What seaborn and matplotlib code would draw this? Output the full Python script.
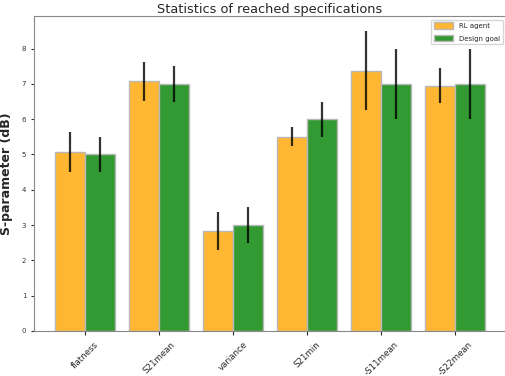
import numpy as np
import pandas as pd
import seaborn as sns
import matplotlib.pyplot as plt

specs = ['flatness', 'S21mean', 'variance', 'S21min', '-S11mean', '-S22mean']
agent_mean = [5.07, 7.07, 2.83, 5.50, 7.37, 6.95]
agent_err = [0.56, 0.56, 0.54, 0.27, 1.12, 0.50]
goal_mean = [5.0, 7.0, 3.0, 6.0, 7.0, 7.0]
goal_err = [0.5, 0.5, 0.5, 0.5, 1.0, 1.0]

df = pd.DataFrame({
    'spec': specs * 2,
    'value': agent_mean + goal_mean,
    'err': agent_err + goal_err,
    'who': ['RL agent'] * len(specs) + ['Design goal'] * len(specs),
})

sns.set_style("white")

fig = plt.figure(figsize=(5.06, 3.76), dpi=100)
ax = fig.add_axes([0.067, 0.12, 0.933, 0.837])

sns.barplot(data=df, x='spec', y='value', hue='who', errorbar=None,
            palette={'RL agent': '#ffb733', 'Design goal': '#339933'},
            edgecolor='#b8b8b8', linewidth=1, width=0.8, saturation=1, ax=ax)

# error bars on bar centres
for bars, (name, grp) in zip(ax.containers, df.groupby('who', sort=False)):
    xs = [b.get_x() + b.get_width() / 2 for b in bars]
    ax.errorbar(xs, grp['value'], yerr=grp['err'], fmt='none',
                ecolor='black', elinewidth=1.6, alpha=0.8, capsize=0)

ax.set_xlim(-0.69, 5.69)
ax.set_ylim(0, 8.92)
ax.set_title('Statistics of reached specifications', fontsize=9.3, pad=2)
ax.set_ylabel('S-parameter (dB)', fontsize=9, fontweight='bold', labelpad=6)
ax.set_xlabel('')
ax.tick_params(axis='y', labelsize=5, length=2, left=True, colors='#333333')
ax.tick_params(axis='x', labelsize=6.2, length=3, bottom=True)
plt.setp(ax.get_xticklabels(), rotation=45)
for s in ax.spines.values():
    s.set_color('#888888')
ax.spines['right'].set_visible(False)
ax.legend(fontsize=5, loc='upper right', frameon=True, handlelength=2.8,
          handleheight=1.0, labelspacing=0.9)

fig.savefig('out.png', dpi=100)
